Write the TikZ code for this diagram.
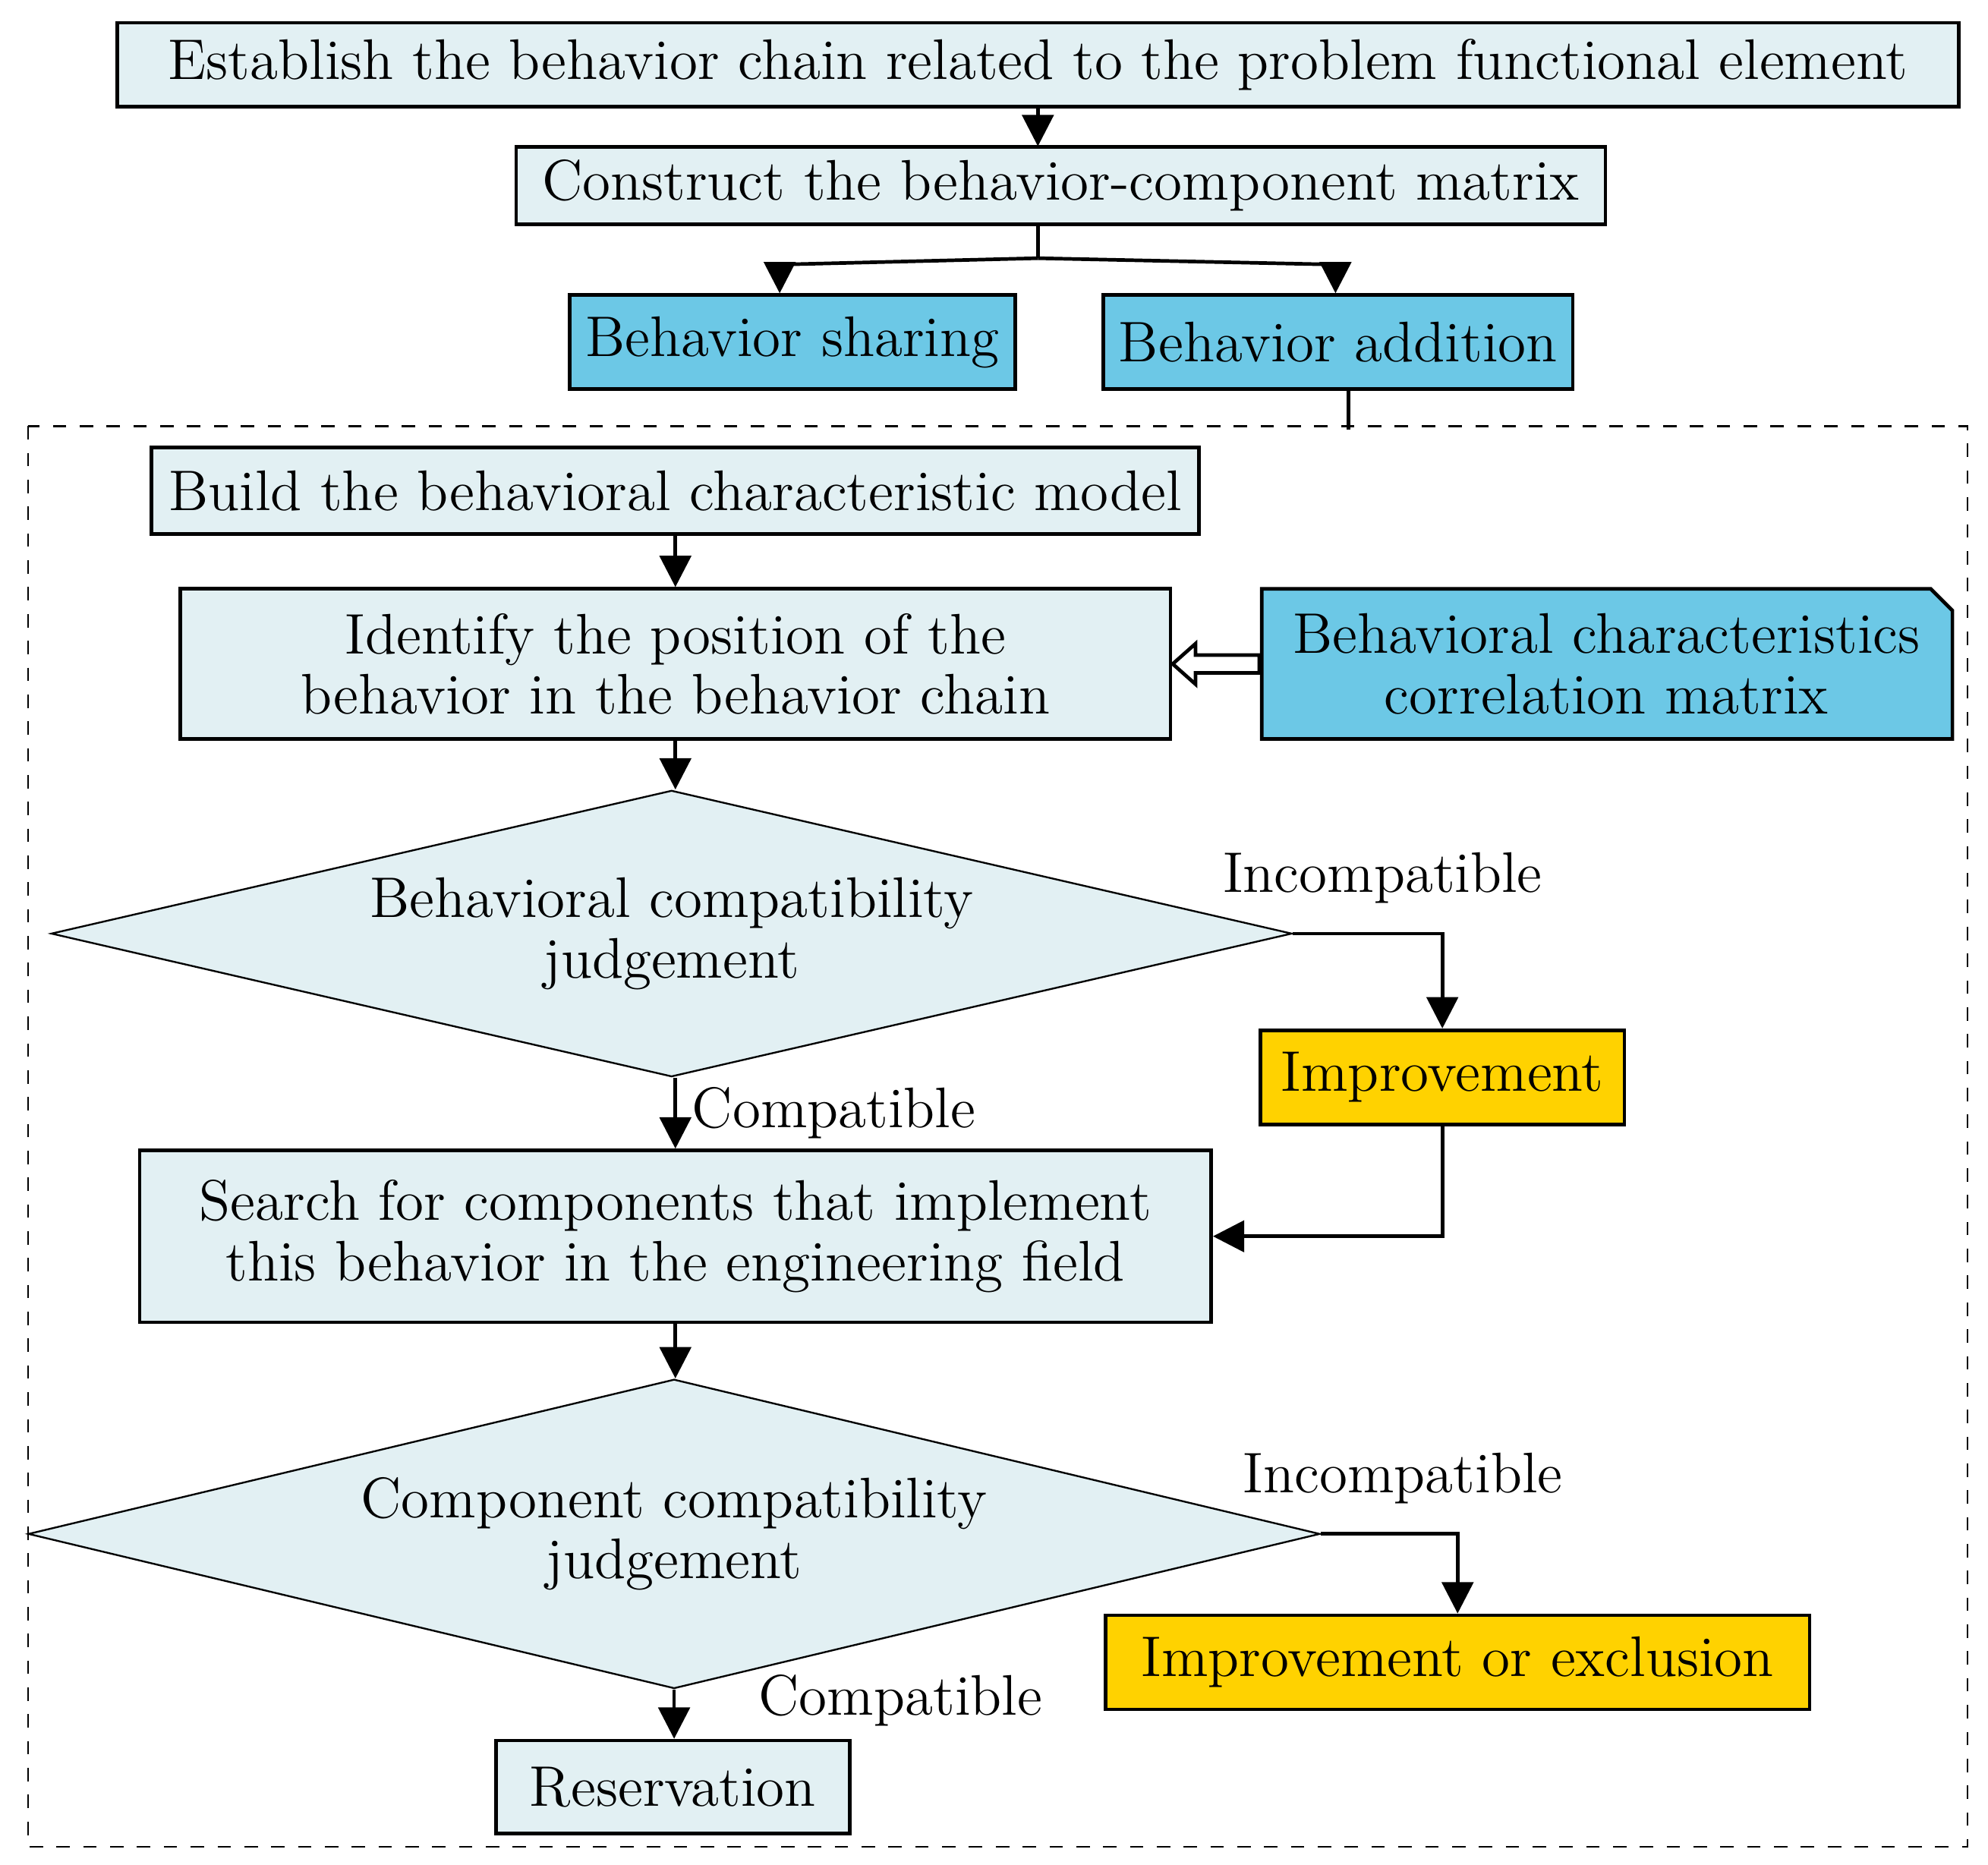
\documentclass[tikz,border=0pt]{standalone}
\usetikzlibrary{shapes.geometric,arrows.meta,positioning}
\definecolor{pale}{RGB}{226,240,243}
\definecolor{sky}{RGB}{108,200,230}
\definecolor{gold}{RGB}{255,210,0}
\begin{document}
\begin{tikzpicture}[x=0.01cm,y=-0.01cm,font=\fontsize{12.8}{13.5}\selectfont,>={Triangle[length=7pt,width=7pt]}]

% Styles
\tikzstyle{stage} = [draw, thick, fill=pale, inner sep=0pt, align=center]
\tikzstyle{item} = [draw, thick, fill=sky, inner sep=0pt]
\tikzstyle{fix}  = [draw, thick, fill=gold, inner sep=0pt]
\tikzstyle{test} = [draw, fill=pale, diamond, aspect=4.3, inner sep=0pt, align=center]
\tikzstyle{line} = [thick]

\useasboundingbox (0,0) rectangle (1563,1466);
\draw[dashed] (22,335) rectangle (1547,1452);

% Nodes
\node [stage, minimum width=14.47cm, minimum height=0.66cm] (chain) at (816,51) {Establish the behavior chain related to the problem functional element};
\node [stage, minimum width=8.56cm, minimum height=0.61cm] (matrix) at (834,146) {Construct the behavior-component matrix};
\node [item, minimum width=3.5cm, minimum height=0.74cm] (share) at (623,269) {Behavior sharing};
\node [item, minimum width=3.69cm, minimum height=0.74cm] (add) at (1052,269) {Behavior addition};
\coordinate (frame) at (1060,338);
\node [stage, minimum width=8.23cm, minimum height=0.68cm] (model) at (531,386) {Build the behavioral characteristic model};
\node [stage, minimum width=7.78cm, minimum height=1.18cm] (pos) at (531,522) {Identify the position of the\\behavior in the behavior chain};
\node [test, minimum width=9.75cm, minimum height=2.25cm] (bjudge) at (528,734) {Behavioral compatibility\\judgement};
\node [fix, minimum width=2.86cm, minimum height=0.74cm] (impr) at (1134,847) {Improvement};
\node [stage, minimum width=8.42cm, minimum height=1.35cm] (search) at (531,972) {Search for components that implement\\this behavior in the engineering field};
\node [test, minimum width=10.15cm, minimum height=2.43cm] (cjudge) at (530,1206) {Component compatibility\\judgement};
\node [fix, minimum width=5.53cm, minimum height=0.74cm] (excl) at (1146,1307) {Improvement or exclusion};
\node [stage, minimum width=2.78cm, minimum height=0.73cm] (keep) at (529,1405) {Reservation};

% Correlation matrix note
\draw [thick, fill=sky] (992,463) -- (1518,463) -- (1535,480) -- (1535,581) -- (992,581) -- cycle;
\node [align=center] (corr) at (1263,522) {Behavioral characteristics\\correlation matrix};

% Connections
\draw [line,->] (chain.south -| 816,0) -- (816,115);
\draw [line] (matrix.south -| 816,0) -- (816,203) coordinate (split);
\draw [line,->] (split) -- (613,208) -- (share.north -| 613,0);
\draw [line,->] (split) -- (1050,208) -- (add.north -| 1050,0);
\draw [line] (add.south -| frame) -- (frame);
\draw [line,->] (model) -- (pos);
\draw [thick, fill=white] (922,522) -- (940,506) -- (940,515) -- (990,515) -- (990,529) -- (940,529) -- (940,538) -- cycle;
\draw [line,->] (pos.south) -- (bjudge.north -| pos.south);
\draw [line,->] (bjudge.east) -| node[pos=0.3,above,yshift=3pt] {Incompatible} (impr.north);
\draw [line,->] (bjudge.south -| 531,0) -- node[right] {Compatible} (search.north);
\draw [line,->] (impr.south) |- (search.east);
\draw [line,->] (search.south) -- (cjudge.north -| search.south);
\draw [line,->] (cjudge.east) -| node[pos=0.3,above,yshift=3pt] {Incompatible} (excl.north);
\draw [line,->] (cjudge.south) -- (keep.north -| cjudge.south);
\node at (708,1337) {Compatible};

\end{tikzpicture}
\end{document}
